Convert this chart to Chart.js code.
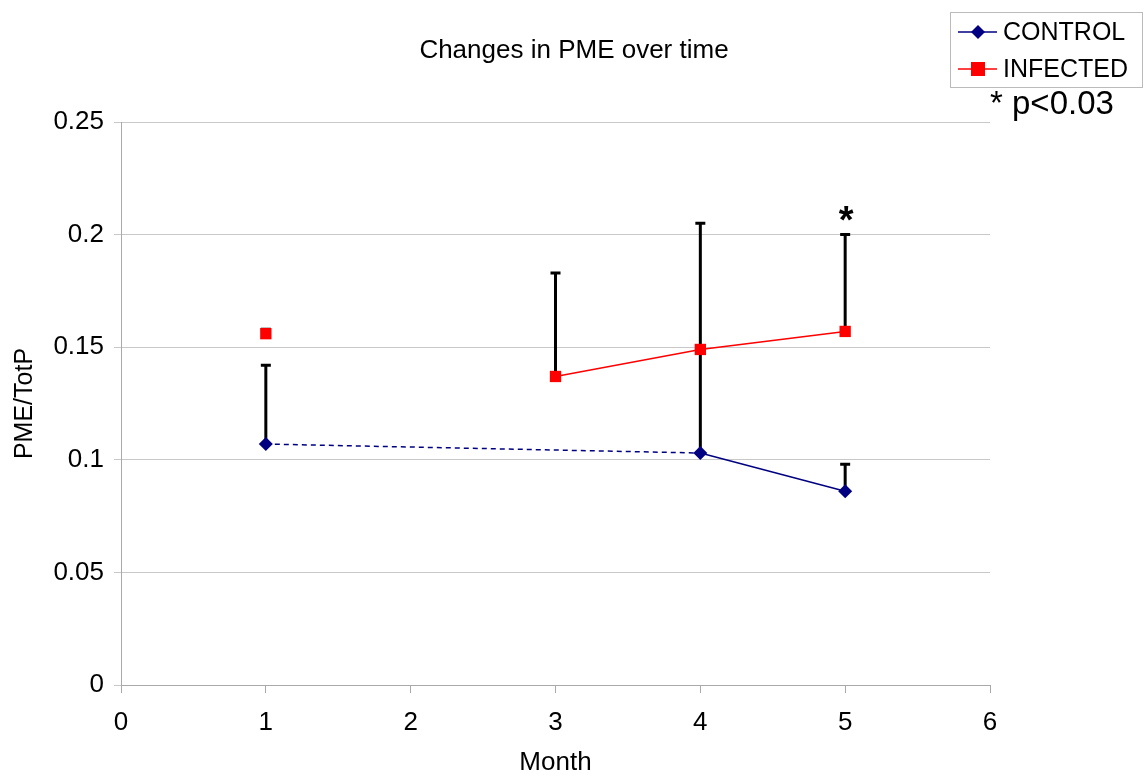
<!DOCTYPE html>
<html>
<head>
<meta charset="utf-8">
<title>Changes in PME over time</title>
<script src="https://cdn.jsdelivr.net/npm/chart.js@4.4.0/dist/chart.umd.min.js"></script>
<style>
	html, body { margin: 0; padding: 0; background: #fff; }
	#wrap { width: 1145px; height: 778px; }
</style>
</head>
<body>
<div id="wrap"><canvas id="pme-chart"></canvas></div>
<script>
// values
var controlMonths = [1, 4, 5];
var controlValues = [0.107, 0.103, 0.086];
var controlUpper = [0.142, 0.149, 0.098];

var infectedMonths = [1, 3, 4, 5];
var infectedValues = [0.156, 0.137, 0.149, 0.157];
var infectedUpper = [0.158, 0.183, 0.205, 0.200];

var starMonths = [5]; // significant points, star drawn above the error bar
var pText = '* p<0.03';

var FONT = '"Liberation Sans", Arial, sans-serif';

function toPoints(xs, ys) {
	return xs.map(function (x, i) { return { x: x, y: ys[i] }; });
}

// error bars drawn under the markers
var errorBars = {
	id: 'errorBars',
	beforeDatasetsDraw: function (chart) {
		var ctx = chart.ctx, sx = chart.scales.x, sy = chart.scales.y;
		ctx.save();
		ctx.strokeStyle = '#000';
		ctx.lineWidth = 3;
		function draw(months, vals, upper) {
			for (var i = 0; i < months.length; i++) {
				var px = sx.getPixelForValue(months[i]);
				var y0 = sy.getPixelForValue(vals[i]);
				var y1 = sy.getPixelForValue(upper[i]);
				ctx.beginPath();
				ctx.moveTo(px, y0);
				ctx.lineTo(px, y1);
				ctx.moveTo(px - 5, y1);
				ctx.lineTo(px + 5, y1);
				ctx.stroke();
			}
		}
		draw(controlMonths, controlValues, controlUpper);
		draw(infectedMonths, infectedValues, infectedUpper);
		ctx.restore();
	}
};

// title, legend box, p value and star
var extras = {
	id: 'extras',
	afterDraw: function (chart) {
		var ctx = chart.ctx, sx = chart.scales.x, sy = chart.scales.y;
		ctx.save();
		ctx.fillStyle = '#000';
		ctx.textAlign = 'center';
		ctx.textBaseline = 'middle';
		ctx.font = '26px ' + FONT;
		ctx.fillText('Changes in PME over time', 574, 51);

		// legend
		ctx.strokeStyle = '#bbb';
		ctx.lineWidth = 1;
		ctx.strokeRect(950.5, 12.5, 192, 75);
		var rows = [
			{ label: 'CONTROL', color: '#000080', y: 32, shape: 'diamond' },
			{ label: 'INFECTED', color: '#ff0000', y: 69, shape: 'square' }
		];
		rows.forEach(function (r) {
			ctx.strokeStyle = r.color;
			ctx.lineWidth = 1.5;
			ctx.beginPath();
			ctx.moveTo(958, r.y);
			ctx.lineTo(997, r.y);
			ctx.stroke();
			ctx.fillStyle = r.color;
			ctx.beginPath();
			if (r.shape === 'diamond') {
				ctx.moveTo(978, r.y - 7); ctx.lineTo(985, r.y); ctx.lineTo(978, r.y + 7); ctx.lineTo(971, r.y);
			} else {
				ctx.rect(971, r.y - 7, 14, 14);
			}
			ctx.fill();
			ctx.fillStyle = '#000';
			ctx.textAlign = 'left';
			ctx.font = '25px ' + FONT;
			ctx.fillText(r.label, 1003, r.y + 1);
		});

		ctx.textAlign = 'left';
		ctx.textBaseline = 'alphabetic';
		ctx.font = '33px ' + FONT;
		ctx.fillText(pText, 990, 114);

		// stars
		ctx.textAlign = 'center';
		ctx.font = 'bold 38px ' + FONT;
		starMonths.forEach(function (m) {
			var i = infectedMonths.indexOf(m);
			var px = sx.getPixelForValue(m);
			var py = sy.getPixelForValue(infectedUpper[i]);
			ctx.fillText('*', px + 1, py - 2);
		});
		ctx.restore();
	}
};

new Chart(document.getElementById('pme-chart'), {
	type: 'scatter',
	data: {
		datasets: [{
			label: 'CONTROL',
			data: toPoints(controlMonths, controlValues),
			showLine: true,
			borderColor: '#000080',
			backgroundColor: '#000080',
			borderWidth: 1.5,
			pointStyle: 'rectRot',
			pointRadius: 7,
			pointBorderWidth: 0,
			segment: {
				borderDash: function (ctx) { return ctx.p0.parsed.x === 1 ? [5, 4] : undefined; }
			}
		}, {
			label: 'INFECTED',
			data: toPoints(infectedMonths, infectedValues),
			showLine: true,
			borderColor: '#ff0000',
			backgroundColor: '#ff0000',
			borderWidth: 1.5,
			pointStyle: 'rect',
			pointRadius: 8,
			pointBorderWidth: 0,
			segment: {
				borderColor: function (ctx) { return ctx.p0.parsed.x === 1 ? 'rgba(0,0,0,0)' : undefined; }
			}
		}]
	},
	options: {
		responsive: true,
		maintainAspectRatio: false,
		animation: false,
		layout: { padding: { top: 122, right: 155, left: 0, bottom: 0 } },
		plugins: {
			legend: { display: false },
			title: { display: false },
			tooltip: { enabled: false }
		},
		scales: {
			x: {
				type: 'linear',
				min: 0, max: 6,
				afterFit: function (s) { s.height = 93; },
				ticks: { stepSize: 1, color: '#000', font: { size: 26, family: FONT }, padding: 14 },
				grid: { drawOnChartArea: false, drawTicks: true, tickLength: 8, color: '#aaa' },
				border: { color: '#aaa' },
				title: { display: true, text: 'Month', color: '#000', font: { size: 26, family: FONT }, padding: { top: 0, bottom: 0 } }
			},
			y: {
				min: 0, max: 0.25,
				afterFit: function (s) { s.width = 121; },
				ticks: {
					stepSize: 0.05, color: '#000', font: { size: 26, family: FONT }, padding: 10,
					callback: function (v) { return String(+v.toFixed(2)); }
				},
				grid: { color: '#c8c8c8', tickLength: 7 },
				border: { color: '#aaa' },
				title: { display: true, text: 'PME/TotP', color: '#000', font: { size: 25, family: FONT }, padding: { top: 10, bottom: 0 } }
			}
		}
	},
	plugins: [errorBars, extras]
});
</script>
</body>
</html>
